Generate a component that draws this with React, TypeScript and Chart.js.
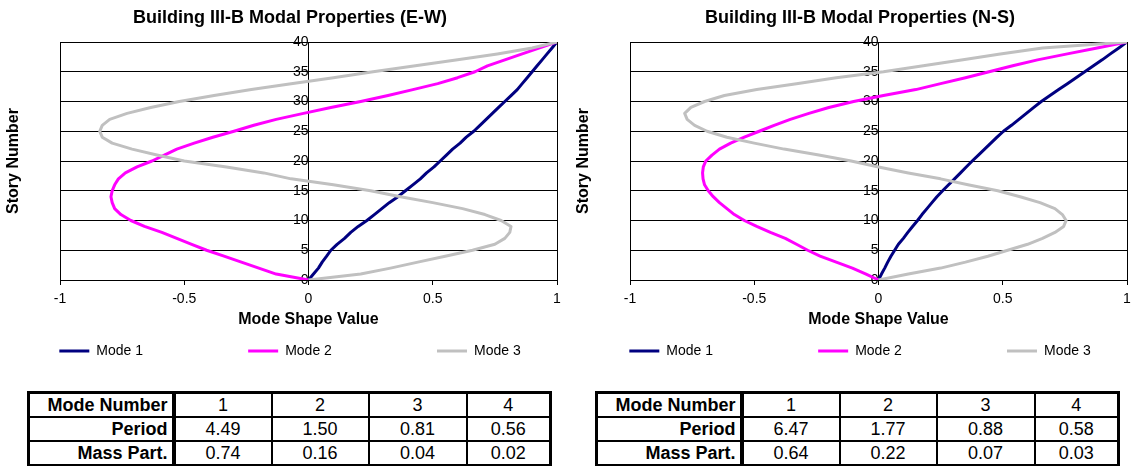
import React, { useEffect, useRef } from 'react';
import { Chart, registerables } from 'chart.js';

Chart.register(...registerables);

const FONT = '"Liberation Sans", Arial, sans-serif';

const stories = [0, 1, 2, 3, 4, 5, 6, 7, 8, 9, 10, 11, 12, 13, 14, 15, 16, 17, 18, 19, 20, 21, 22, 23, 24, 25, 26, 27, 28, 29, 30, 31, 32, 33, 34, 35, 36, 37, 38, 39, 40];

const ewMode1 = [0, 0.02, 0.04, 0.055, 0.073, 0.09, 0.115, 0.145, 0.17, 0.2, 0.235, 0.265, 0.295, 0.325, 0.36, 0.39, 0.42, 0.45, 0.475, 0.505, 0.53, 0.555, 0.58, 0.61, 0.635, 0.665, 0.69, 0.715, 0.74, 0.765, 0.79, 0.815, 0.84, 0.86, 0.88, 0.9, 0.92, 0.94, 0.96, 0.98, 1.0];
const ewMode2 = [0, -0.13, -0.2, -0.27, -0.34, -0.41, -0.47, -0.53, -0.59, -0.66, -0.715, -0.755, -0.78, -0.79, -0.795, -0.79, -0.78, -0.765, -0.737, -0.69, -0.63, -0.58, -0.53, -0.46, -0.385, -0.3, -0.22, -0.13, -0.02, 0.09, 0.21, 0.32, 0.42, 0.52, 0.6, 0.67, 0.72, 0.79, 0.86, 0.93, 1.0];
const ewMode3 = [0, 0.21, 0.33, 0.44, 0.55, 0.66, 0.75, 0.79, 0.81, 0.815, 0.775, 0.71, 0.62, 0.5, 0.37, 0.25, 0.1, -0.07, -0.18, -0.33, -0.5, -0.61, -0.71, -0.79, -0.83, -0.84, -0.83, -0.8, -0.73, -0.635, -0.52, -0.38, -0.23, -0.07, 0.1, 0.26, 0.43, 0.6, 0.76, 0.9, 1.0];

const nsMode1 = [0, 0.012, 0.025, 0.037, 0.05, 0.065, 0.08, 0.1, 0.118, 0.137, 0.157, 0.175, 0.195, 0.215, 0.235, 0.258, 0.282, 0.306, 0.33, 0.353, 0.377, 0.402, 0.427, 0.452, 0.477, 0.503, 0.535, 0.565, 0.595, 0.625, 0.655, 0.69, 0.725, 0.76, 0.795, 0.83, 0.865, 0.9, 0.933, 0.967, 1.0];
const nsMode2 = [0, -0.05, -0.105, -0.17, -0.235, -0.285, -0.33, -0.375, -0.435, -0.49, -0.54, -0.58, -0.61, -0.64, -0.665, -0.685, -0.7, -0.706, -0.708, -0.705, -0.695, -0.67, -0.64, -0.595, -0.54, -0.48, -0.42, -0.355, -0.28, -0.2, -0.1, 0.02, 0.15, 0.25, 0.35, 0.445, 0.54, 0.64, 0.76, 0.88, 1.0];
const nsMode3 = [0, 0.12, 0.25, 0.35, 0.44, 0.52, 0.6, 0.66, 0.71, 0.745, 0.755, 0.74, 0.71, 0.65, 0.57, 0.48, 0.36, 0.25, 0.12, 0.0, -0.11, -0.24, -0.38, -0.5, -0.61, -0.69, -0.74, -0.77, -0.78, -0.755, -0.7, -0.62, -0.49, -0.33, -0.17, 0.02, 0.18, 0.34, 0.49, 0.66, 1.0];

const modeLabels = ['Mode 1', 'Mode 2', 'Mode 3'];
const modeColors = ['#000080', '#FF00FF', '#C0C0C0'];

const tableModes = ['1', '2', '3', '4'];
const ewPeriod = ['4.49', '1.50', '0.81', '0.56'];
const ewMass = ['0.74', '0.16', '0.04', '0.02'];
const nsPeriod = ['6.47', '1.77', '0.88', '0.58'];
const nsMass = ['0.64', '0.22', '0.07', '0.03'];

const LEGEND_PAD = ' '.repeat(26);

function ModeChart({ title, series, left }: { title: string; series: number[][]; left: number }) {
  const ref = useRef<HTMLCanvasElement>(null);
  useEffect(() => {
    const datasets = series.map((vals, i) => ({
      label: modeLabels[i],
      data: stories.map((s, k) => ({ x: vals[k], y: s })),
      borderColor: modeColors[i],
      backgroundColor: modeColors[i],
      borderWidth: 3,
      borderJoinStyle: 'round' as const,
      pointRadius: 0,
      showLine: true,
      tension: 0,
      order: 2 - i,
    }));
    const chart = new Chart(ref.current!, {
      type: 'scatter',
      data: { datasets },
      options: {
        animation: false,
        responsive: false,
        devicePixelRatio: 1,
        layout: { padding: { left: 0, right: 0, top: 0, bottom: 2 } },
        plugins: {
          tooltip: { enabled: false },
          title: {
            display: true,
            text: title,
            color: '#000',
            font: { family: FONT, size: 18, weight: 'bold' },
            padding: { top: 7.2, bottom: 13.2 },
          },
          legend: {
            display: true,
            position: 'bottom',
            align: 'center',
            labels: {
              boxWidth: 30,
              boxHeight: 3,
              padding: 4,
              color: '#000',
              font: { family: FONT, size: 14 },
              generateLabels: (c: any) =>
                c.data.datasets.map((ds: any, i: number) => ({
                  text: ds.label + (i < c.data.datasets.length - 1 ? LEGEND_PAD : ''),
                  fillStyle: ds.borderColor,
                  strokeStyle: ds.borderColor,
                  lineWidth: 0,
                  hidden: false,
                  fontColor: '#000',
                  datasetIndex: i,
                })),
            },
          },
        },
        scales: {
          x: {
            type: 'linear',
            min: -1,
            max: 1,
            ticks: {
              stepSize: 0.5,
              color: '#000',
              padding: 7,
              font: { family: FONT, size: 14, lineHeight: 1 },
              callback: (v: number) => String(Number(v)),
            },
            grid: { drawOnChartArea: false, drawTicks: true, tickLength: 5, tickColor: '#000', color: '#000' },
            border: { color: '#000', width: 1 },
            title: {
              display: true,
              text: 'Mode Shape Value',
              color: '#000',
              font: { family: FONT, size: 16, weight: 'bold', lineHeight: 1 },
              padding: { top: -1, bottom: 12 },
            },
          },
          y: {
            type: 'linear',
            position: 'left',
            min: 0,
            max: 40,
            ticks: { display: false, stepSize: 5 },
            grid: { color: '#000', lineWidth: 1, drawTicks: false },
            border: { color: '#000', width: 1 },
            title: {
              display: true,
              text: 'Story Number',
              color: '#000',
              font: { family: FONT, size: 16, weight: 'bold', lineHeight: 1 },
              padding: { top: 6, bottom: 0 },
            },
            afterFit: (s: any) => { s.width = 60; },
          },
          y2: {
            type: 'linear',
            axis: 'y',
            position: { x: 0 },
            min: 0,
            max: 40,
            ticks: { stepSize: 5, color: '#000', padding: 2, font: { family: FONT, size: 14 } },
            grid: { display: false, drawTicks: false },
            border: { color: '#000', width: 1 },
          },
          yr: {
            type: 'linear',
            axis: 'y',
            position: 'right',
            min: 0,
            max: 40,
            ticks: { display: false },
            grid: { display: false, drawTicks: false },
            border: { color: '#000', width: 1 },
            afterFit: (s: any) => { s.width = 23; },
          },
        },
      } as any,
    });
    return () => chart.destroy();
  }, []);
  return (
    <canvas
      ref={ref}
      width={580}
      height={370}
      style={{ position: 'absolute', left, top: 0, width: 580, height: 370 }}
    />
  );
}

const colWidths = [145, 98, 97, 98, 84];

function ModalTable({ left, periods, mass }: { left: number; periods: string[]; mass: string[] }) {
  const base: React.CSSProperties = {
    border: '2px solid #000',
    padding: '0 4px',
    fontSize: 18,
    height: 22,
    lineHeight: '22px',
    fontFamily: FONT,
    color: '#000',
    whiteSpace: 'nowrap',
    overflow: 'hidden',
  };
  const head: React.CSSProperties = { ...base, fontWeight: 'bold', textAlign: 'right', borderRight: '4px solid #000' };
  const val: React.CSSProperties = { ...base, textAlign: 'center', fontWeight: 'normal' };
  const rows: [string, string[]][] = [
    ['Mode Number', tableModes],
    ['Period', periods],
    ['Mass Part.', mass],
  ];
  return (
    <table
      style={{
        position: 'absolute',
        left,
        top: 391,
        borderCollapse: 'collapse',
        border: '3px solid #000',
        tableLayout: 'fixed',
        width: colWidths.reduce((a, b) => a + b, 0),
      }}
    >
      <colgroup>
        {colWidths.map((w, i) => (
          <col key={i} style={{ width: w }} />
        ))}
      </colgroup>
      <tbody>
        {rows.map(([label, vals]) => (
          <tr key={label}>
            <td style={head}>{label}</td>
            {vals.map((v, j) => (
              <td key={j} style={val}>{v}</td>
            ))}
          </tr>
        ))}
      </tbody>
    </table>
  );
}

export default function App() {
  return (
    <div
      style={{
        position: 'absolute',
        left: 0,
        top: 0,
        width: 1135,
        height: 466,
        overflow: 'hidden',
        background: '#fff',
        fontFamily: FONT,
      }}
    >
      <ModeChart title="Building III-B Modal Properties (E-W)" series={[ewMode1, ewMode2, ewMode3]} left={0} />
      <ModeChart title="Building III-B Modal Properties (N-S)" series={[nsMode1, nsMode2, nsMode3]} left={570} />
      <ModalTable left={27} periods={ewPeriod} mass={ewMass} />
      <ModalTable left={595} periods={nsPeriod} mass={nsMass} />
    </div>
  );
}
